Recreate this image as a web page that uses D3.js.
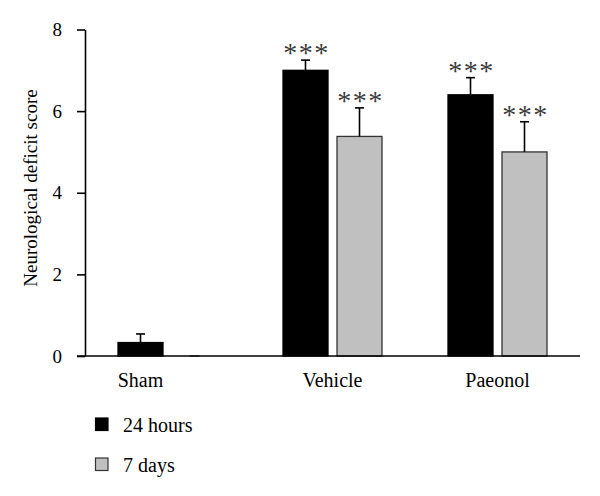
<!DOCTYPE html>
<html><head><meta charset="utf-8">
<script src="https://cdn.jsdelivr.net/npm/d3@7"></script>
<style>body{margin:0;background:#fff}svg{display:block}text{font-family:"Liberation Serif","DejaVu Serif",serif}</style>
</head><body><svg id="c" width="600" height="496"></svg>
<script>
const categories = ["Sham", "Vehicle", "Paeonol"];
const seriesNames = ["24 hours", "7 days"];
const hours24 = [0.33, 7.0, 6.4];
const hours24Err = [0.21, 0.25, 0.42];
const days7 = [0.0, 5.38, 5.0];
const days7Err = [0.0, 0.7, 0.74];
const sig24 = ["", "***", "***"];
const sig7 = ["", "***", "***"];
const yTicks = [0, 2, 4, 6, 8];
const yTitle = "Neurological deficit score";
const colors = ["#000000", "#c0c0c0"];

const svg = d3.select("#c");
const x = d3.scaleBand().domain(categories).range([85, 580]).paddingInner(0.4).paddingOuter(0.2);
const xs = d3.scaleBand().domain(seriesNames).range([0, x.bandwidth()]).paddingInner(1/6);
const y = d3.scaleLinear().domain([0, 8]).range([356, 29.5]);

const rows = [];
categories.forEach((c, i) => {
  rows.push({c, s: seriesNames[0], v: hours24[i], e: hours24Err[i], sig: sig24[i], col: colors[0]});
  rows.push({c, s: seriesNames[1], v: days7[i], e: days7Err[i], sig: sig7[i], col: colors[1]});
});

// y axis
const yAxis = d3.axisLeft(y).tickValues(yTicks).tickSize(8).tickSizeOuter(0).tickPadding(15);
const gy = svg.append("g").attr("transform", "translate(85,0)").call(yAxis);
gy.select(".domain").attr("stroke", "#000").attr("stroke-width", 1.6);
gy.selectAll(".tick line").attr("stroke", "#000").attr("stroke-width", 1.6);
gy.selectAll(".tick text").attr("font-size", 19).attr("fill", "#000").attr("font-family", "Liberation Serif");

// bars
const g = svg.append("g");
rows.forEach(r => {
  const bx = x(r.c) + xs(r.s);
  const bw = xs.bandwidth();
  if (r.v > 0) {
    g.append("rect").attr("x", bx).attr("y", y(r.v)).attr("width", bw).attr("height", y(0) - y(r.v))
      .attr("fill", r.col).attr("stroke", r.col === "#000000" ? "#000" : "#333").attr("stroke-width", 1.3);
  } else {
    g.append("line").attr("x1", bx + bw/2 - 5).attr("x2", bx + bw/2 + 5).attr("y1", y(0)).attr("y2", y(0))
      .attr("stroke", "#555").attr("stroke-width", 1.5);
  }
  if (r.e > 0) {
    const cx = bx + bw/2;
    g.append("line").attr("x1", cx).attr("x2", cx).attr("y1", y(r.v)).attr("y2", y(r.v + r.e)).attr("stroke", "#000").attr("stroke-width", 1.6);
    g.append("line").attr("x1", cx - 4.5).attr("x2", cx + 4.5).attr("y1", y(r.v + r.e)).attr("y2", y(r.v + r.e)).attr("stroke", "#000").attr("stroke-width", 1.6);
  }
  if (r.sig) {
    g.append("text").attr("x", bx + bw/2 + 1).attr("y", y(r.v + r.e) + 2).attr("text-anchor", "middle")
      .attr("font-size", 28).attr("letter-spacing", "1.5px").attr("fill", "#3a3a3a").text(r.sig);
  }
});

// x axis baseline
svg.append("line").attr("x1", 77).attr("x2", 580).attr("y1", y(0)).attr("y2", y(0)).attr("stroke", "#000").attr("stroke-width", 1.6);

// category labels
categories.forEach((c, i) => {
  const cx = days7[i] > 0 ? x(c) + x.bandwidth()/2 : x(c) + xs(seriesNames[0]) + xs.bandwidth()/2;
  svg.append("text").attr("x", cx).attr("y", 387).attr("text-anchor", "middle").attr("font-size", 20).attr("fill", "#000").text(c);
});

// y title
svg.append("text").attr("transform", "translate(37,188) rotate(-90)").attr("text-anchor", "middle")
  .attr("font-size", 19).attr("fill", "#000").text(yTitle);

// legend
seriesNames.forEach((s, i) => {
  const ly = 418 + i * 40;
  svg.append("rect").attr("x", 95.5).attr("y", ly).attr("width", 12.5).attr("height", 12.5)
    .attr("fill", colors[i]).attr("stroke", i === 0 ? "#000" : "#333").attr("stroke-width", 1.2);
  svg.append("text").attr("x", 123).attr("y", ly + 14).attr("font-size", 20).attr("fill", "#000").text(s);
});
</script></body></html>
